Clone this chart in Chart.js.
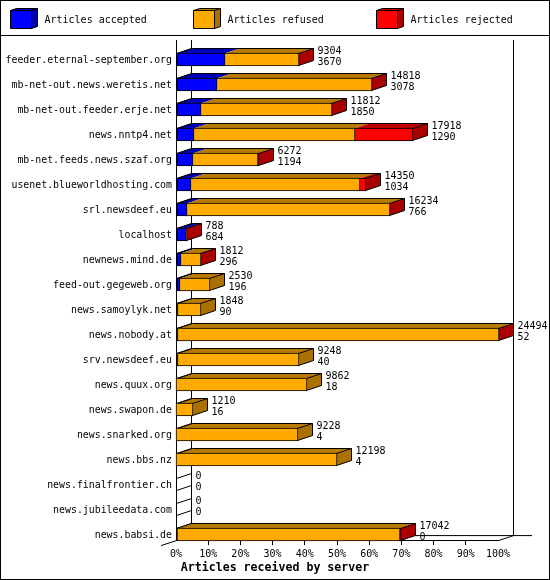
<!DOCTYPE html>
<html><head><meta charset="utf-8">
<style>html,body{margin:0;padding:0;background:#fff}canvas{display:block}</style>
<script src="https://cdn.jsdelivr.net/npm/chart.js@4/dist/chart.umd.js"></script>
</head><body><div style="width:550px;height:580px"><canvas id="c" width="550" height="580"></canvas></div>
<script>
const categories = ["feeder.eternal-september.org","mb-net-out.news.weretis.net","mb-net-out.feeder.erje.net","news.nntp4.net","mb-net.feeds.news.szaf.org","usenet.blueworldhosting.com","srl.newsdeef.eu","localhost","newnews.mind.de","feed-out.gegeweb.org","news.samoylyk.net","news.nobody.at","srv.newsdeef.eu","news.quux.org","news.swapon.de","news.snarked.org","news.bbs.nz","news.finalfrontier.ch","news.jubileedata.com","news.babsi.de"];
const received = [9304,14818,11812,17918,6272,14350,16234,788,1812,2530,1848,24494,9248,9862,1210,9228,12198,0,0,17042];
const accepted = [3670,3078,1850,1290,1194,1034,766,684,296,196,90,52,40,18,16,4,4,0,0,0];
const refused = [5600,11720,9942,12250,4983,12872,15438,90,1496,2334,1758,24412,9208,9844,1194,9224,12194,0,0,16950];
const rejected = [34,20,20,4378,95,444,30,14,20,0,0,30,0,0,0,0,0,0,0,92];
const seriesNames = ["Articles accepted","Articles refused","Articles rejected"];
const frontColors = ["#0000ff","#ffaa00","#ff0000"];
const topColors = ["#0000b8","#b87a00","#c00000"];
const sideColors = ["#0000aa","#aa7100","#aa0000"];
const tickPercents = [0,10,20,30,40,50,60,70,80,90,100];
const axisTitle = "Articles received by server";
const maxTotal = 24494;
const DX = 15, DY = 5;
const MONO = '"DejaVu Sans Mono"';

function poly(ctx, pts, fill) {
  ctx.beginPath();
  pts.forEach((p, i) => i ? ctx.lineTo(p[0], p[1]) : ctx.moveTo(p[0], p[1]));
  ctx.closePath();
  if (fill) { ctx.fillStyle = fill; ctx.fill(); }
  ctx.strokeStyle = "#000"; ctx.lineWidth = 1; ctx.stroke();
}
function line(ctx, x1, y1, x2, y2) {
  ctx.beginPath(); ctx.moveTo(x1, y1); ctx.lineTo(x2, y2);
  ctx.strokeStyle = "#000"; ctx.lineWidth = 1; ctx.stroke();
}

const threeD = {
  id: "threeD",
  afterDatasetsUpdate(chart) {
    chart.data.datasets.forEach((ds, d) => {
      chart.getDatasetMeta(d).data.forEach((el, i) => {
        const base = Math.round(el.base);
        el.base = base;
        el.x = ds.data[i] > 0 ? Math.round(el.x) + 1 : base;
        el.y = Math.floor(el.y) + 7.5;
      });
    });
  },
  beforeDraw(chart) {
    const ctx = chart.ctx, W = chart.width, H = chart.height;
    ctx.save();
    ctx.fillStyle = "#fff"; ctx.fillRect(0, 0, W, H);
    ctx.strokeStyle = "#000"; ctx.lineWidth = 1;
    ctx.strokeRect(0.5, 0.5, W - 1, H - 1);
    line(ctx, 0, 35.5, W, 35.5);
    // legend
    const boxX = [10.5, 193.5, 376.5];
    seriesNames.forEach((name, i) => {
      const x = boxX[i], y = 10.5, w = 21, h = 18, dx = 6, dy = 2;
      poly(ctx, [[x, y], [x + dx, y - dy], [x + w + dx, y - dy], [x + w, y]], topColors[i]);
      poly(ctx, [[x + w, y], [x + w + dx, y - dy], [x + w + dx, y + h - dy], [x + w, y + h]], sideColors[i]);
      poly(ctx, [[x, y], [x + w, y], [x + w, y + h], [x, y + h]], frontColors[i]);
      ctx.fillStyle = "#000"; ctx.font = "10px " + MONO;
      ctx.textAlign = "left"; ctx.textBaseline = "middle";
      ctx.fillText(name, x + 34, 20.5);
    });
    ctx.restore();
  },
  beforeDatasetsDraw(chart) {
    const ctx = chart.ctx, a = chart.chartArea;
    const L = a.left + 0.5, R = a.right + 0.5, T = a.top, B = a.bottom + 0.5;
    ctx.save();
    // walls and floor
    line(ctx, L + DX, T, L + DX, B - DY);
    line(ctx, R + DX, T, R + DX, B - DY);
    line(ctx, L + DX, B - DY, R + DX + 18.5, B - DY);
    line(ctx, R, B, R + DX, B - DY);
    line(ctx, L, B, L - 15.5, B + DY);
    const step = (a.bottom - a.top) / categories.length / 2;
    for (let k = 1; k <= categories.length * 2; k++) {
      const y = Math.round(a.top + k * step) + 0.5;
      line(ctx, L, y, L + DX, y - DY);
    }
    // top and side faces
    categories.forEach((c, i) => {
      const els = chart.data.datasets.map((ds, d) => chart.getDatasetMeta(d).data[i]);
      let last = -1;
      chart.data.datasets.forEach((ds, d) => { if (ds.data[i] > 0) last = d; });
      if (last < 0) return;
      const yT = els[0].y - 6, yB = els[0].y + 6;
      chart.data.datasets.forEach((ds, d) => {
        if (ds.data[i] <= 0) return;
        const x0 = els[d].base + 0.5, x1 = els[d].x - 0.5;
        ctx.beginPath();
        ctx.moveTo(x0, yT); ctx.lineTo(x0 + DX, yT - DY);
        ctx.lineTo(x1 + DX, yT - DY); ctx.lineTo(x1, yT); ctx.closePath();
        ctx.fillStyle = topColors[d]; ctx.fill();
      });
      const xs = els[0].base + 0.5, xe = els[last].x - 0.5;
      poly(ctx, [[xe, yT], [xe + DX, yT - DY], [xe + DX, yB - DY], [xe, yB]], sideColors[last]);
      line(ctx, xs, yT, xs + DX, yT - DY);
      line(ctx, xs + DX, yT - DY, xe + DX, yT - DY);
    });
    ctx.restore();
  },
  afterDatasetsDraw(chart) {
    const ctx = chart.ctx, xs = chart.scales.x, ys = chart.scales.y;
    ctx.save();
    ctx.fillStyle = "#000"; ctx.font = "10px " + MONO;
    ctx.textAlign = "left"; ctx.textBaseline = "middle";
    categories.forEach((c, i) => {
      const endX = Math.round(xs.getPixelForValue(received[i]));
      const y = ys.getPixelForTick(i) + 7.5;
      ctx.fillText(String(received[i]), endX + DX + 4.5, y - 9);
      ctx.fillText(String(accepted[i]), endX + DX + 4.5, y + 2);
    });
    ctx.restore();
  }
};

new Chart(document.getElementById("c"), {
  type: "bar",
  data: {
    labels: categories,
    datasets: [accepted, refused, rejected].map((vals, i) => ({
      label: seriesNames[i], data: vals, backgroundColor: frontColors[i],
      borderColor: "#000", borderWidth: 1, borderSkipped: false,
      barThickness: 13, clip: false, xAxisID: "x", yAxisID: "y"
    }))
  },
  options: {
    indexAxis: "y", responsive: false, animation: false, events: [],
    layout: { padding: { top: 40, left: 0, right: 0, bottom: 5 } },
    scales: {
      x: {
        type: "linear", stacked: true, min: 0, max: maxTotal, position: "bottom",
        afterBuildTicks(s) { s.ticks = tickPercents.map(p => ({ value: p / 100 * maxTotal })); },
        afterFit(s) { s.height = 21; },
        border: { color: "#000", width: 1 },
        grid: { drawOnChartArea: false, tickLength: 5, tickWidth: 1,
                tickColor: c => (c.index === 0 || c.index === tickPercents.length - 1) ? "rgba(0,0,0,0)" : "#000" },
        ticks: { autoSkip: false, maxRotation: 0, padding: 3, color: "#000",
                 font: { family: MONO, size: 10 },
                 callback: (v, i) => tickPercents[i] + "%" }
      },
      y: {
        type: "category", stacked: true, position: "left",
        afterFit(s) { s.width = 176; },
        border: { color: "#000", width: 1 },
        grid: { display: false, drawTicks: false },
        ticks: { autoSkip: false, padding: 4, labelOffset: 7.5, color: "#000",
                 font: { family: MONO, size: 9.9 } }
      },
      y2: {
        type: "linear", position: "right", min: 0, max: 1,
        afterFit(s) { s.width = 52; },
        border: { display: false },
        grid: { display: false, drawTicks: false },
        ticks: { display: false }
      }
    },
    plugins: {
      legend: { display: false }, tooltip: { enabled: false },
      title: { display: true, text: axisTitle, position: "bottom", color: "#000", padding: 0,
               font: { family: MONO, size: 11.6, weight: "bold", lineHeight: 1.2 } }
    }
  },
  plugins: [threeD]
});
</script></body></html>
